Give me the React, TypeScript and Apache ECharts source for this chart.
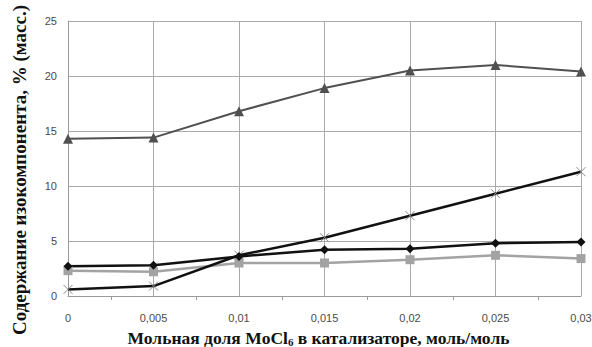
import React, { useEffect, useRef } from "react";
import * as echarts from "echarts";

const xValues = [0, 0.005, 0.01, 0.015, 0.02, 0.025, 0.03];
const triangleSeries = [14.3, 14.4, 16.8, 18.9, 20.5, 21.0, 20.4];
const diamondSeries = [2.7, 2.8, 3.6, 4.2, 4.3, 4.8, 4.9];
const squareSeries = [2.3, 2.2, 3.0, 3.0, 3.3, 3.7, 3.4];
const crossSeries = [0.6, 0.9, 3.7, 5.3, 7.3, 9.3, 11.3];
const xTitle = "Мольная доля MoCl{sub|6} в катализаторе, моль/моль";
const yTitle = "Содержание изокомпонента, % (масс.)";

const pair = (ys: number[]) => xValues.map((x, i) => [x, ys[i]]);

export default function App() {
  const ref = useRef<HTMLDivElement>(null);
  useEffect(() => {
    if (!ref.current) return;
    const chart = echarts.init(ref.current, null, { renderer: "svg" });
    const labelStyle = { color: "#4a4a4a", fontFamily: "Liberation Sans, Arial, sans-serif", fontSize: 11 };
    chart.setOption({
      animation: false,
      backgroundColor: "#fff",
      grid: { left: 68, right: 11, top: 21, bottom: 51, outerBoundsMode: "none", containLabel: false },
      graphic: [
        {
          type: "text",
          x: 19,
          y: 170,
          rotation: Math.PI / 2,
          style: {
            text: yTitle,
            fontFamily: "Liberation Serif, serif",
            fontWeight: "bold",
            fontSize: 19,
            fill: "#111",
            align: "center",
            verticalAlign: "middle",
          },
        },
      ],
      xAxis: {
        type: "value",
        min: 0,
        max: 0.03,
        interval: 0.005,
        name: xTitle,
        nameLocation: "middle",
        nameGap: 33,
        nameTextStyle: {
          fontFamily: "Liberation Serif, serif",
          fontWeight: "bold",
          fontSize: 17.5,
          color: "#111",
          padding: [0, 12, 0, 0],
          rich: { sub: { fontSize: 11, fontWeight: "bold", fontFamily: "Liberation Serif, serif", verticalAlign: "bottom", padding: [7, 0, 0, 0], color: "#111" } },
        },
        axisLine: { show: true, lineStyle: { color: "#999", width: 1 } },
        axisTick: { show: false },
        minorTick: { show: true, splitNumber: 2, length: 4, lineStyle: { color: "#999" } },
        splitLine: { show: true, lineStyle: { color: "#aaa", width: 1 } },
        axisLabel: {
          ...labelStyle,
          margin: 16,
          formatter: (v: number) => String(Number(v.toFixed(3))).replace(".", ","),
        },
      },
      yAxis: {
        type: "value",
        min: 0,
        max: 25,
        interval: 5,
        axisLine: { show: true, lineStyle: { color: "#999", width: 1 } },
        axisTick: { show: false },
        splitLine: { show: true, lineStyle: { color: "#aaa", width: 1 } },
        axisLabel: { ...labelStyle, margin: 11 },
      },
      series: [
        {
          type: "line",
          data: pair(triangleSeries),
          symbol: "triangle",
          symbolSize: 10,
          lineStyle: { color: "#505050", width: 2 },
          itemStyle: { color: "#505050" },
        },
        {
          type: "line",
          data: pair(squareSeries),
          symbol: "rect",
          symbolSize: 9,
          lineStyle: { color: "#a3a3a3", width: 2.5 },
          itemStyle: { color: "#a3a3a3" },
        },
        {
          type: "line",
          data: pair(crossSeries),
          symbol: "path://M0,0L10,10M10,0L0,10",
          symbolSize: 9,
          lineStyle: { color: "#111", width: 2.5 },
          itemStyle: { color: "none", borderColor: "#888", borderWidth: 1 },
        },
        {
          type: "line",
          data: pair(diamondSeries),
          symbol: "diamond",
          symbolSize: 9,
          lineStyle: { color: "#111", width: 2.5 },
          itemStyle: { color: "#111" },
        },
      ],
    });
    return () => chart.dispose();
  }, []);
  return <div ref={ref} style={{ position: "fixed", left: 0, top: 0, width: 592, height: 347 }} />;
}
